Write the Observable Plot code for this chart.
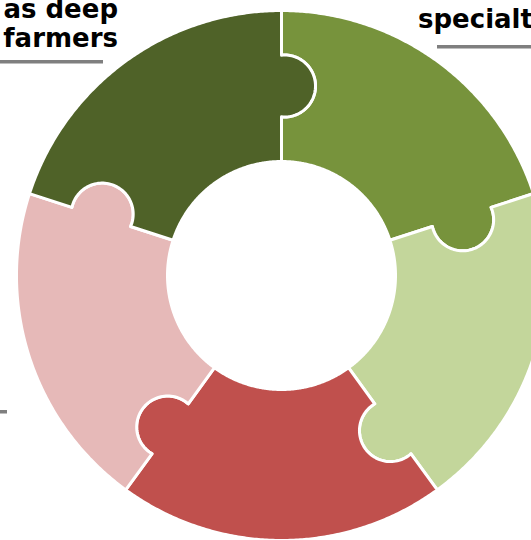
<!DOCTYPE html>
<html>
<head>
<meta charset="utf-8">
<script src="https://cdn.jsdelivr.net/npm/d3@7"></script>
<script src="https://cdn.jsdelivr.net/npm/@observablehq/plot@0.6"></script>
<style>
  html, body { margin: 0; padding: 0; background: #fff; }
  #wrap { position: relative; width: 531px; height: 540px; overflow: hidden; }
  #wrap svg { position: absolute; left: 0; top: 0; }
</style>
</head>
<body>
<div id="wrap"></div>
<script>
// ---- data ----
const categories = ["Piece 1", "Piece 2", "Piece 3", "Piece 4", "Piece 5"];
const values = [1, 1, 1, 1, 1];
const colors = ["#77933C", "#C3D69B", "#C0504D", "#E6B9B8", "#4F6228"];
const labelLines = [["as deep", "farmers"], ["specialty"]];

// ---- geometry (style) ----
const W = 531, H = 540;
const R = 265, r = 114;           // outer / inner radius
const m = (R + r) / 2;            // tab centre radius
const t = 31, d = 3;              // tab radius and offset
const delta = Math.asin(d / t);
const N = 160;

const total = d3.sum(values);
const pts = [];
let acc = 0;
categories.forEach((cat, i) => {
  const a0 = acc / total * 2 * Math.PI;
  acc += values[i];
  const a1 = acc / total * 2 * Math.PI;
  const P = (rho, a) => ({piece: cat, x: rho * Math.sin(a), y: rho * Math.cos(a)});
  const tab = (a, phi) => {
    const ux = Math.sin(a), uy = Math.cos(a), vx = Math.cos(a), vy = -Math.sin(a);
    const cx = m * ux + d * vx, cy = m * uy + d * vy;
    return {piece: cat,
      x: cx + t * (Math.cos(phi) * ux + Math.sin(phi) * vx),
      y: cy + t * (Math.cos(phi) * uy + Math.sin(phi) * vy)};
  };
  // outer arc
  for (let k = 0; k <= N; k++) pts.push(P(R, a0 + (a1 - a0) * k / N));
  // end boundary inward, tab bulging into next piece
  for (let k = 0; k <= 60; k++) pts.push(tab(a1, -delta + (Math.PI + 2 * delta) * k / 60));
  // inner arc back
  for (let k = 0; k <= N; k++) pts.push(P(r, a1 - (a1 - a0) * k / N));
  // start boundary outward, notch from previous piece's tab
  for (let k = 0; k <= 60; k++) pts.push(tab(a0, Math.PI + delta - (Math.PI + 2 * delta) * k / 60));
  pts.push(P(R, a0));
});

const chart = Plot.plot({
  width: W, height: H, margin: 0,
  style: {overflow: "hidden", background: "white"},
  x: {domain: [-281, W - 281], axis: null},
  y: {domain: [-(H - 275), 275], axis: null},
  color: {domain: categories, range: colors},
  marks: [
    Plot.line(pts, {x: "x", y: "y", z: "piece", fill: "piece", stroke: "white",
      strokeWidth: 3, strokeLinejoin: "round", curve: "linear"})
  ]
});
const wrap = document.getElementById("wrap");
wrap.appendChild(chart);

// ---- labels overlay ----
const ov = d3.select(wrap).append("svg").attr("width", W).attr("height", H);
const font = "'DejaVu Sans', sans-serif";
const t1 = ov.append("text").attr("text-anchor", "end").attr("font-family", font)
  .attr("font-weight", "bold").attr("font-size", 26).attr("fill", "#000");
labelLines[0].forEach((s, i) => t1.append("tspan").attr("x", 118).attr("y", 18 + 29 * i).text(s));
ov.append("rect").attr("x", 0).attr("y", 60).attr("width", 103).attr("height", 3.5).attr("fill", "#7f7f7f");

ov.append("text").attr("x", 418).attr("y", 28).attr("font-family", font)
  .attr("font-weight", "bold").attr("font-size", 26).attr("fill", "#000").text(labelLines[1][0]);
ov.append("rect").attr("x", 437).attr("y", 45).attr("width", 94).attr("height", 3.5).attr("fill", "#7f7f7f");

ov.append("rect").attr("x", 0).attr("y", 410).attr("width", 7).attr("height", 3.5).attr("fill", "#7f7f7f");
</script>
</body>
</html>
